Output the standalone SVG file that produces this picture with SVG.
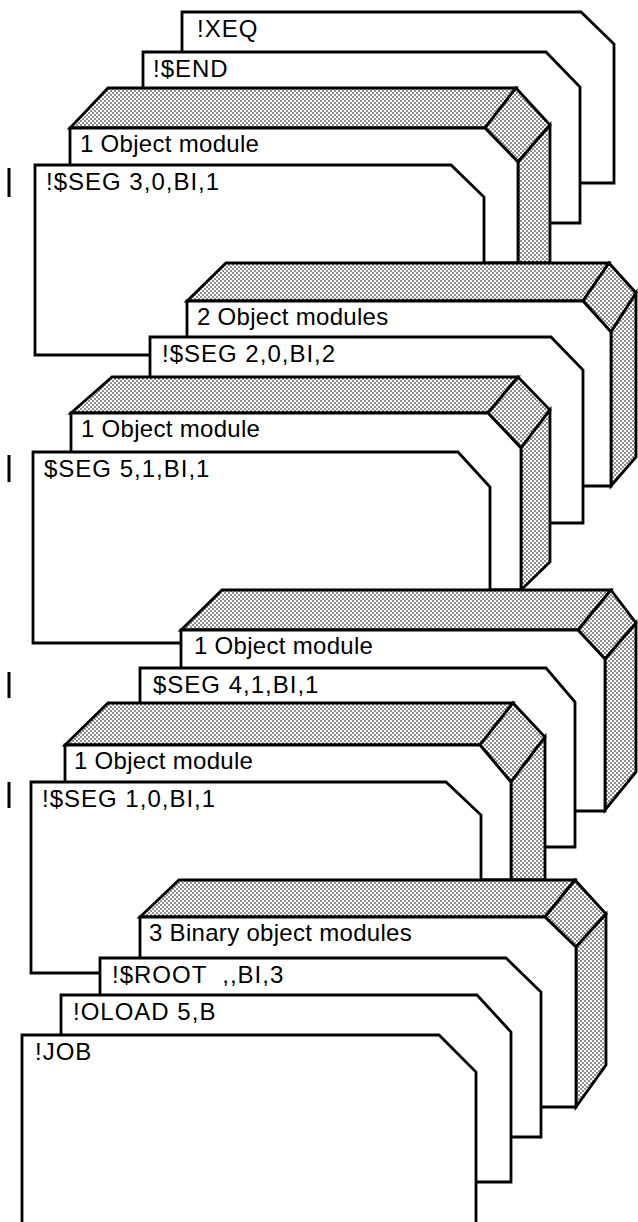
<svg xmlns="http://www.w3.org/2000/svg" width="638" height="1222" viewBox="0 0 638 1222">
<defs>
<pattern id="dots" width="4" height="4" patternUnits="userSpaceOnUse">
<rect width="4" height="4" fill="#fff"/>
<circle cx="1" cy="1" r="0.8" fill="#000"/>
<circle cx="3" cy="3" r="0.8" fill="#000"/>
</pattern>
</defs>
<style>
.card{fill:#fff;stroke:#000;stroke-width:2.8;stroke-linejoin:miter}
.shade{fill:url(#dots);stroke:#000;stroke-width:2.8;stroke-linejoin:miter}
.code{font-family:"Liberation Sans",Arial,sans-serif;font-size:24px;letter-spacing:1px;fill:#000}
.lbl{font-family:"Liberation Sans",Arial,sans-serif;font-size:24px;letter-spacing:0.3px;fill:#000}
.bar{stroke:#000;stroke-width:3}
</style>
<rect width="638" height="1222" fill="#fff"/>

<g id="card-xeq">
<path class="card" d="M182,12 L581,12 L614,44 L614,183 L182,183 Z"/>
<text class="code" x="197" y="37">!XEQ</text>
</g>
<g id="card-end">
<path class="card" d="M143,52 L546,52 L580,87 L580,223 L143,223 Z"/>
<text class="code" x="153" y="77">!$END</text>
</g>
<g id="deck-seg3">
<path class="shade" d="M108,88 L516,88 L485,128 L70,128 Z"/>
<path class="shade" d="M516,88 L550,125 L518,162 L485,128 Z"/>
<path class="shade" d="M518,162 L550,125 L550,263 L518,263 Z"/>
<path class="card" d="M70,128 L485,128 L518,162 L518,263 L70,263 Z"/>
<text class="lbl" x="80" y="152">1 Object module</text>
</g>
<g id="card-seg3">
<path class="card" d="M35,165 L451,165 L484,197 L484,355 L35,355 Z"/>
<text class="code" x="46" y="190">!$SEG 3,0,BI,1</text>
</g>
<g id="deck-seg2">
<path class="shade" d="M226,263 L609,263 L583,301 L187,301 Z"/>
<path class="shade" d="M609,263 L636,293 L611,332 L583,301 Z"/>
<path class="shade" d="M611,332 L636,293 L636,457 L611,486 Z"/>
<path class="card" d="M187,301 L583,301 L611,332 L611,486 L187,486 Z"/>
<text class="lbl" x="197" y="325">2 Object modules</text>
</g>
<g id="card-seg2">
<path class="card" d="M150,337 L551,337 L583,370 L583,523 L150,523 Z"/>
<text class="code" x="162" y="362">!$SEG 2,0,BI,2</text>
</g>
<g id="deck-seg5">
<path class="shade" d="M112,377 L518,377 L488,413 L71,413 Z"/>
<path class="shade" d="M518,377 L550,410 L521,448 L488,413 Z"/>
<path class="shade" d="M521,448 L550,410 L550,562 L521,590 Z"/>
<path class="card" d="M71,413 L488,413 L521,448 L521,590 L71,590 Z"/>
<text class="lbl" x="81" y="437">1 Object module</text>
</g>
<g id="card-seg5">
<path class="card" d="M33,452 L458,452 L490,487 L490,643 L33,643 Z"/>
<text class="code" x="44" y="477">$SEG 5,1,BI,1</text>
</g>
<g id="deck-seg4">
<path class="shade" d="M222,590 L611,590 L578,630 L181,630 Z"/>
<path class="shade" d="M611,590 L636,623 L605,659 L578,630 Z"/>
<path class="shade" d="M605,659 L636,623 L636,772 L605,810 Z"/>
<path class="card" d="M181,630 L578,630 L605,659 L605,811 L181,811 Z"/>
<text class="lbl" x="194" y="654">1 Object module</text>
</g>
<g id="card-seg4">
<path class="card" d="M140,668 L546,668 L575,702 L575,847 L140,847 Z"/>
<text class="code" x="153" y="693">$SEG 4,1,BI,1</text>
</g>
<g id="deck-seg1">
<path class="shade" d="M108,703 L513,703 L480,745 L65,745 Z"/>
<path class="shade" d="M513,703 L545,737 L511,782 L480,745 Z"/>
<path class="shade" d="M511,782 L545,737 L545,880 L511,880 Z"/>
<path class="card" d="M65,745 L480,745 L511,782 L511,880 L65,880 Z"/>
<text class="lbl" x="74" y="769">1 Object module</text>
</g>
<g id="card-seg1">
<path class="card" d="M31,782 L446,782 L481,815 L481,973 L31,973 Z"/>
<text class="code" x="42" y="807">!$SEG 1,0,BI,1</text>
</g>
<g id="deck-root">
<path class="shade" d="M179,880 L575,880 L545,917 L140,917 Z"/>
<path class="shade" d="M575,880 L606,914 L576,947 L545,917 Z"/>
<path class="shade" d="M576,947 L606,914 L606,1065 L576,1107 Z"/>
<path class="card" d="M140,917 L545,917 L576,947 L576,1107 L140,1107 Z"/>
<text class="lbl" x="149" y="941">3 Binary object modules</text>
</g>
<g id="card-root">
<path class="card" d="M100,958 L506,958 L541,992 L541,1137 L100,1137 Z"/>
<text class="code" x="112" y="983" xml:space="preserve">!$ROOT  ,,BI,3</text>
</g>
<g id="card-oload">
<path class="card" d="M61,995 L477,995 L511,1032 L511,1182 L61,1182 Z"/>
<text class="code" x="73" y="1020">!OLOAD 5,B</text>
</g>
<g id="card-job">
<path class="card" d="M22,1035 L439,1035 L476,1072 L476,1232 L22,1232 Z"/>
<text class="code" x="35" y="1060">!JOB</text>
</g>

<g id="connectors">
<line class="bar" x1="9" y1="168" x2="9" y2="197"/>
<line class="bar" x1="9" y1="455" x2="9" y2="482"/>
<line class="bar" x1="9" y1="672" x2="9" y2="698"/>
<line class="bar" x1="9" y1="782" x2="9" y2="808"/>
</g>
</svg>
